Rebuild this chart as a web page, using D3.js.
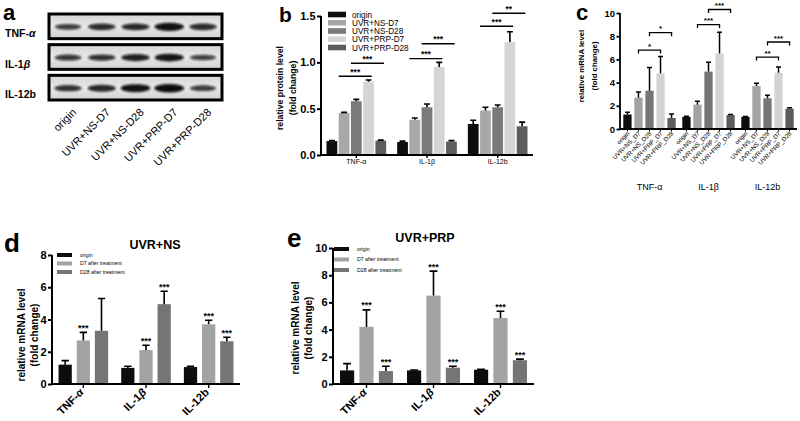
<!DOCTYPE html>
<html><head><meta charset="utf-8">
<script src="https://cdn.jsdelivr.net/npm/d3@7"></script>
<style>
body{margin:0;background:#fff}
svg{display:block}
text{font-family:"Liberation Sans",Arial,Helvetica,sans-serif}
</style>
</head><body>
<svg id="fig" width="800" height="421"></svg>
<script>
// ---------------- DATA ----------------
// panel a: western blot (relative band intensity, estimated)
const blotProteins = ["TNF-α", "IL-1β", "IL-12b"];
const blotLanes = ["origin", "UVR+NS-D7", "UVR+NS-D28", "UVR+PRP-D7", "UVR+PRP-D28"];
const bandTNF = [0.55, 0.7, 0.75, 0.95, 0.7];
const bandIL1b = [0.6, 0.65, 0.8, 0.9, 0.5];
const bandIL12b = [0.65, 0.75, 0.95, 1.0, 0.55];

const cytokines = ["TNF-α", "IL-1β", "IL-12b"];

// panel b: relative protein level
const bGroups = ["origin", "UVR+NS-D7", "UVR+NS-D28", "UVR+PRP-D7", "UVR+PRP-D28"];
const bOrigin = [0.15, 0.14, 0.335],   bOriginErr = [0.005, 0.01, 0.04];
const bNSD7 = [0.455, 0.38, 0.48],     bNSD7Err = [0.005, 0.02, 0.035];
const bNSD28 = [0.58, 0.515, 0.515],   bNSD28Err = [0.02, 0.035, 0.025];
const bPRPD7 = [0.79, 0.95, 1.22],     bPRPD7Err = [0.02, 0.05, 0.11];
const bPRPD28 = [0.155, 0.145, 0.31],  bPRPD28Err = [0.005, 0.01, 0.045];
const bTicks = [0, 0.5, 1.0, 1.5];
const bBrackets = [
  ["TNF-α", "UVR+NS-D7", "UVR+PRP-D7", 0.85, "***"],
  ["TNF-α", "UVR+NS-D28", "UVR+PRP-D28", 0.99, "***"],
  ["IL-1β", "UVR+NS-D7", "UVR+PRP-D7", 1.04, "***"],
  ["IL-1β", "UVR+NS-D28", "UVR+PRP-D28", 1.2, "***"],
  ["IL-12b", "UVR+NS-D7", "UVR+PRP-D7", 1.39, "***"],
  ["IL-12b", "UVR+NS-D28", "UVR+PRP-D28", 1.53, "**"]
];

// panel c: relative mRNA level, all groups
const cGroups = ["origin", "UVR+NS_D7", "UVR+NS_D28", "UVR+PRP_D7", "UVR+PRP_D28"];
const cOrigin = [1.25, 1.05, 1.05],  cOriginErr = [0.2, 0.05, 0.03];
const cNSD7 = [2.7, 2.1, 3.7],       cNSD7Err = [0.5, 0.3, 0.25];
const cNSD28 = [3.3, 4.95, 2.65],    cNSD28Err = [2.0, 0.8, 0.25];
const cPRPD7 = [4.8, 6.5, 4.85],     cPRPD7Err = [1.45, 1.85, 0.5];
const cPRPD28 = [0.95, 1.2, 1.75],   cPRPD28Err = [0.35, 0.05, 0.08];
const cTicks = [0, 2, 4, 6, 8, 10];
const cBrackets = [
  ["TNF-α", "UVR+NS_D7", "UVR+PRP_D7", 6.8, "*"],
  ["TNF-α", "UVR+NS_D28", "UVR+PRP_D28", 8.3, "*"],
  ["IL-1β", "UVR+NS_D7", "UVR+PRP_D7", 9.0, "***"],
  ["IL-1β", "UVR+NS_D28", "UVR+PRP_D28", 10.3, "***"],
  ["IL-12b", "UVR+NS_D7", "UVR+PRP_D7", 6.2, "**"],
  ["IL-12b", "UVR+NS_D28", "UVR+PRP_D28", 7.5, "***"]
];

// panels d / e
const deGroups = ["origin", "D7 after treatment", "D28 after treatment"];
const dOrigin = [1.2, 1.0, 1.05],   dOriginErr = [0.25, 0.1, 0.05];
const dD7 = [2.7, 2.1, 3.7],        dD7Err = [0.5, 0.3, 0.25],   dD7Sig = ["***", "***", "***"];
const dD28 = [3.3, 4.95, 2.65],     dD28Err = [2.0, 0.8, 0.25],  dD28Sig = ["", "***", "***"];
const dTicks = [0, 2, 4, 6, 8];
const eOrigin = [1.0, 1.0, 1.05],   eOriginErr = [0.5, 0.03, 0.03];
const eD7 = [4.2, 6.5, 4.85],       eD7Err = [1.25, 1.8, 0.5],   eD7Sig = ["***", "***", "***"];
const eD28 = [0.95, 1.2, 1.75],     eD28Err = [0.35, 0.1, 0.08], eD28Sig = ["***", "***", "***"];
const eTicks = [0, 2, 4, 6, 8, 10];

// ---------------- DRAWING ----------------
const svg = d3.select("#fig");

function greek(sel, label) {
  const m = label.match(/^(.*?)([αβ])$/);
  if (m) {
    sel.append("tspan").text(m[1]);
    sel.append("tspan").attr("font-style", "italic").text(m[2]);
  } else sel.text(label);
}

function grouped(cfg) {
  const g = svg.append("g");
  const x0 = d3.scaleBand().domain(cfg.cats).range(cfg.xr).paddingInner(0).paddingOuter(0);
  const x1 = d3.scaleBand().domain(cfg.keys).range([0, x0.bandwidth()])
    .paddingInner(cfg.pi).paddingOuter(cfg.po);
  const y = d3.scaleLinear().domain(cfg.yDomain).range(cfg.yr);
  cfg.series.forEach((s, si) => {
    const key = cfg.keys[si];
    const sg = g.append("g");
    const rows = cfg.cats.map((c, i) => ({c, v: s.v[i], e: s.e[i], sig: s.sig ? s.sig[i] : ""}));
    sg.selectAll("rect").data(rows).join("rect")
      .attr("x", d => x0(d.c) + x1(key))
      .attr("y", d => y(d.v))
      .attr("width", x1.bandwidth())
      .attr("height", d => y(0) - y(d.v))
      .attr("fill", s.color);
    sg.selectAll("path").data(rows).join("path")
      .attr("d", d => {
        const cx = x0(d.c) + x1(key) + x1.bandwidth() / 2;
        const yt = y(d.v + d.e), yb = y(d.v);
        const hw = x1.bandwidth() * cfg.cap / 2;
        return `M${cx},${yb}V${yt}M${cx - hw},${yt}H${cx + hw}`;
      })
      .attr("stroke", "#000").attr("stroke-width", cfg.errW).attr("fill", "none");
    sg.selectAll("text").data(rows.filter(d => d.sig)).join("text")
      .attr("x", d => x0(d.c) + x1(key) + x1.bandwidth() / 2)
      .attr("y", d => y(d.v + d.e) + cfg.starDy)
      .attr("text-anchor", "middle").attr("font-weight", "bold")
      .attr("font-size", cfg.starFs).text(d => d.sig);
  });
  const ya = g.append("g").attr("transform", `translate(${cfg.xr[0]},0)`)
    .call(d3.axisLeft(y).tickValues(cfg.ticks).tickSize(cfg.tickLen).tickSizeOuter(0)
      .tickPadding(1.5).tickFormat(cfg.tickFmt));
  ya.select(".domain").attr("stroke", "#000").attr("stroke-width", cfg.axW).attr("d", `M0,${y(0)}V${y(cfg.yDomain[1])}`);
  ya.selectAll(".tick line").attr("stroke", "#000").attr("stroke-width", cfg.axW);
  ya.selectAll(".tick text").attr("font-family", '"Liberation Sans",Arial,sans-serif')
    .attr("font-weight", "bold").attr("font-size", cfg.tickFs).attr("fill", "#000");
  const xa = g.append("g").attr("transform", `translate(0,${y(0)})`)
    .call(d3.axisBottom(x0).tickSize(cfg.xTickLen).tickSizeOuter(0).tickFormat(""));
  xa.select(".domain").attr("stroke", "#000").attr("stroke-width", cfg.axW)
    .attr("d", `M${cfg.xr[0] - cfg.axW / 2},0H${cfg.xr[1]}`);
  xa.selectAll(".tick line").attr("stroke", "#000").attr("stroke-width", cfg.axW * 0.7);
  return {g, x0, x1, y};
}

function yLabel(lines, cx, cy, fs, gap) {
  lines.forEach((t, i) => {
    svg.append("text").attr("transform", `translate(${cx + i * gap + fs * 0.35},${cy}) rotate(-90)`)
      .attr("text-anchor", "middle").attr("font-weight", "bold").attr("font-size", fs).text(t);
  });
}

function panelLetter(t, x, y, fs) {
  svg.append("text").attr("x", x).attr("y", y).attr("font-weight", "bold").attr("font-size", fs).text(t);
}

// ---- panel a : blot ----
panelLetter("a", 3, 20, 22);
const defs = svg.append("defs");
defs.append("filter").attr("id", "blur").attr("x", "-30%").attr("y", "-100%").attr("width", "160%").attr("height", "300%")
  .append("feGaussianBlur").attr("stdDeviation", 1.1);
const lg = defs.append("linearGradient").attr("id", "blotbg").attr("x1", 0).attr("x2", 0).attr("y1", 0).attr("y2", 1);
lg.append("stop").attr("offset", "0%").attr("stop-color", "#d4d4d4");
lg.append("stop").attr("offset", "50%").attr("stop-color", "#e8e8e8");
lg.append("stop").attr("offset", "100%").attr("stop-color", "#d0d0d0");

const laneX = d3.scalePoint().domain(blotLanes).range([68, 203]);
const rowY = d3.scaleBand().domain(blotProteins).range([13, 101]).paddingInner(0.13);
const bandData = [bandTNF, bandIL1b, bandIL12b];
blotProteins.forEach((p, pi) => {
  const y0 = rowY(p), h = rowY.bandwidth();
  svg.append("rect").attr("x", 49).attr("y", y0 + 1).attr("width", 173).attr("height", h - 2)
    .attr("fill", "url(#blotbg)").attr("stroke", "#000").attr("stroke-width", 3);
  svg.append("g").attr("filter", "url(#blur)").selectAll("ellipse")
    .data(blotLanes.map((l, i) => ({l, v: bandData[pi][i]}))).join("ellipse")
    .attr("cx", d => laneX(d.l)).attr("cy", y0 + h * 0.52)
    .attr("rx", d => 11 + 4 * d.v).attr("ry", d => 1.2 + 3 * d.v)
    .attr("fill", "#0a0a0a").attr("opacity", d => 0.55 + 0.45 * d.v);
  const t = svg.append("text").attr("x", 5).attr("y", y0 + h * 0.5 + 10.5)
    .attr("font-weight", "bold").attr("font-size", 10.5);
  greek(t, p);
});
svg.append("g").selectAll("text").data(blotLanes).join("text")
  .attr("transform", d => `translate(${laneX(d) + 9},${113}) rotate(-45)`)
  .attr("text-anchor", "end").attr("font-size", 11).text(d => d);

// ---- panel b ----
panelLetter("b", 279, 22, 21);
const bColors = ["#0d0d0d", "#a8a8a8", "#7a7a7a", "#d5d5d5", "#5c5c5c"];
const bRes = grouped({
  cats: cytokines, keys: bGroups, xr: [321, 533], yr: [155, 16], yDomain: [0, 1.5],
  pi: 0.12, po: 0.45, cap: 0.55, errW: 1.6, starDy: 0, starFs: 8,
  ticks: bTicks, tickFmt: d3.format(".1f"), tickLen: 4, xTickLen: 3, axW: 2, tickFs: 11,
  series: [
    {v: bOrigin, e: bOriginErr, color: bColors[0]},
    {v: bNSD7, e: bNSD7Err, color: bColors[1]},
    {v: bNSD28, e: bNSD28Err, color: bColors[2]},
    {v: bPRPD7, e: bPRPD7Err, color: bColors[3]},
    {v: bPRPD28, e: bPRPD28Err, color: bColors[4]}
  ]
});
bBrackets.forEach(([c, a, b, v, lab]) => {
  const {x0, x1, y} = bRes;
  const xa = x0(c) + x1(a), xb = x0(c) + x1(b) + x1.bandwidth() * 0.8;
  svg.append("line").attr("x1", xa).attr("x2", xb).attr("y1", y(v)).attr("y2", y(v))
    .attr("stroke", "#000").attr("stroke-width", 1.4);
  svg.append("text").attr("x", (xa + xb) / 2).attr("y", y(v) + 2.5).attr("dy", -4).attr("text-anchor", "middle")
    .attr("font-weight", "bold").attr("font-size", 8.5).text(lab);
});
svg.append("g").selectAll("text").data(cytokines).join("text")
  .attr("x", d => bRes.x0(d) + bRes.x0.bandwidth() / 2).attr("y", 164)
  .attr("text-anchor", "middle").attr("font-size", 7).text(d => d);
const bLegY = d3.scalePoint().domain(bGroups).range([14.5, 47.5]);
svg.append("g").selectAll("rect").data(bGroups).join("rect")
  .attr("x", 328).attr("y", d => bLegY(d) - 2.8).attr("width", 18).attr("height", 5.6)
  .attr("fill", (d, i) => bColors[i]);
svg.append("g").selectAll("text").data(bGroups).join("text")
  .attr("x", 352).attr("y", d => bLegY(d) + 3).attr("font-size", 8.2).text(d => d);
yLabel(["relative protein level", "(fold change)"], 280, 88, 8.7, 12.5);

// ---- panel c ----
panelLetter("c", 576, 20, 22);
const cColors = ["#0d0d0d", "#a3a3a3", "#767676", "#d3d3d3", "#5c5c5c"];
const cRes = grouped({
  cats: cytokines, keys: cGroups, xr: [620, 797], yr: [129, 13], yDomain: [0, 10],
  pi: 0.25, po: 0.3, cap: 0.6, errW: 1.5, starDy: 0, starFs: 8,
  ticks: cTicks, tickFmt: d3.format("d"), tickLen: 3.5, xTickLen: 0, axW: 1.8, tickFs: 9.5,
  series: [
    {v: cOrigin, e: cOriginErr, color: cColors[0]},
    {v: cNSD7, e: cNSD7Err, color: cColors[1]},
    {v: cNSD28, e: cNSD28Err, color: cColors[2]},
    {v: cPRPD7, e: cPRPD7Err, color: cColors[3]},
    {v: cPRPD28, e: cPRPD28Err, color: cColors[4]}
  ]
});
cBrackets.forEach(([c, a, b, v, lab]) => {
  const {x0, x1, y} = cRes;
  const xa = x0(c) + x1(a) + x1.bandwidth() / 2, xb = x0(c) + x1(b) + x1.bandwidth() / 2;
  svg.append("path").attr("d", `M${xa},${y(v) + 3.5}V${y(v)}H${xb}V${y(v) + 3.5}`)
    .attr("stroke", "#000").attr("stroke-width", 1.3).attr("fill", "none");
  svg.append("text").attr("x", (xa + xb) / 2).attr("y", y(v) + 1).attr("dy", -2.5).attr("text-anchor", "middle")
    .attr("font-weight", "bold").attr("font-size", 8).text(lab);
});
const cLab = [];
cytokines.forEach(c => cGroups.forEach(k => cLab.push({c, k})));
const cxf = d => cRes.x0(d.c) + cRes.x1(d.k) + cRes.x1.bandwidth() / 2;
svg.append("g").selectAll("line").data(cLab).join("line")
  .attr("x1", cxf).attr("x2", cxf).attr("y1", 129).attr("y2", 131.5)
  .attr("stroke", "#000").attr("stroke-width", 1);
svg.append("g").selectAll("text").data(cLab).join("text")
  .attr("transform", d => `translate(${cxf(d) + 2.5},${134}) rotate(-45)`)
  .attr("text-anchor", "end").attr("font-size", 6.2).text(d => d.k);
svg.append("g").selectAll("text").data(cytokines).join("text")
  .attr("x", d => cRes.x0(d) + cRes.x0.bandwidth() / 2).attr("y", 190)
  .attr("text-anchor", "middle").attr("font-size", 9).text(d => d);
yLabel(["relative mRNA level", "(fold change)"], 581, 66, 7.8, 13);

// ---- panels d & e ----
function dePanel(o) {
  panelLetter(o.letter, o.lx, o.ly, 26);
  svg.append("text").attr("x", o.tx).attr("y", o.ty).attr("text-anchor", "middle")
    .attr("font-weight", "bold").attr("font-size", 12.5).text(o.title);
  const res = grouped({
    cats: cytokines, keys: deGroups, xr: o.xr, yr: o.yr, yDomain: o.yDomain,
    pi: 0.27, po: 0.36, cap: 0.55, errW: 1.6, starDy: -1.5, starFs: 9,
    ticks: o.ticks, tickFmt: d3.format("d"), tickLen: 4, xTickLen: 4, axW: 2, tickFs: 11,
    series: [
      {v: o.origin, e: o.originErr, color: "#0d0d0d"},
      {v: o.d7, e: o.d7Err, sig: o.d7Sig, color: "#a3a3a3"},
      {v: o.d28, e: o.d28Err, sig: o.d28Sig, color: "#757575"}
    ]
  });
  svg.append("g").selectAll("text").data(cytokines).join("text")
    .attr("transform", d => `translate(${res.x0(d) + res.x0.bandwidth() / 2 + 1},${393}) rotate(-45)`)
    .attr("text-anchor", "end").attr("font-weight", "bold").attr("font-size", 11)
    .each(function (d) { greek(d3.select(this), d); });
  const legY = d3.scalePoint().domain(deGroups).range(o.legYr);
  const legColors = ["#0d0d0d", "#a3a3a3", "#757575"];
  svg.append("g").selectAll("rect").data(deGroups).join("rect")
    .attr("x", o.legX).attr("y", d => legY(d) - 2).attr("width", 15).attr("height", 4)
    .attr("fill", (d, i) => legColors[i]);
  svg.append("g").selectAll("text").data(deGroups).join("text")
    .attr("x", o.legX + 23).attr("y", d => legY(d) + 1.8).attr("font-size", 5.2).text(d => d);
  yLabel(["relative mRNA level", "(fold change)"], o.ylx, o.yly, 10, 13);
}
dePanel({
  letter: "d", lx: 4, ly: 252, title: "UVR+NS", tx: 155, ty: 249,
  xr: [52, 240], yr: [384, 255], yDomain: [0, 8], ticks: dTicks,
  origin: dOrigin, originErr: dOriginErr, d7: dD7, d7Err: dD7Err, d7Sig: dD7Sig,
  d28: dD28, d28Err: dD28Err, d28Sig: dD28Sig,
  legX: 57, legYr: [255, 272], ylx: 21, yly: 335
});
dePanel({
  letter: "e", lx: 287, ly: 247, title: "UVR+PRP", tx: 425, ty: 242,
  xr: [333, 534], yr: [384, 248], yDomain: [0, 10], ticks: eTicks,
  origin: eOrigin, originErr: eOriginErr, d7: eD7, d7Err: eD7Err, d7Sig: eD7Sig,
  d28: eD28, d28Err: eD28Err, d28Sig: eD28Sig,
  legX: 334, legYr: [249, 270], ylx: 295, yly: 328
});
</script>
</body></html>
